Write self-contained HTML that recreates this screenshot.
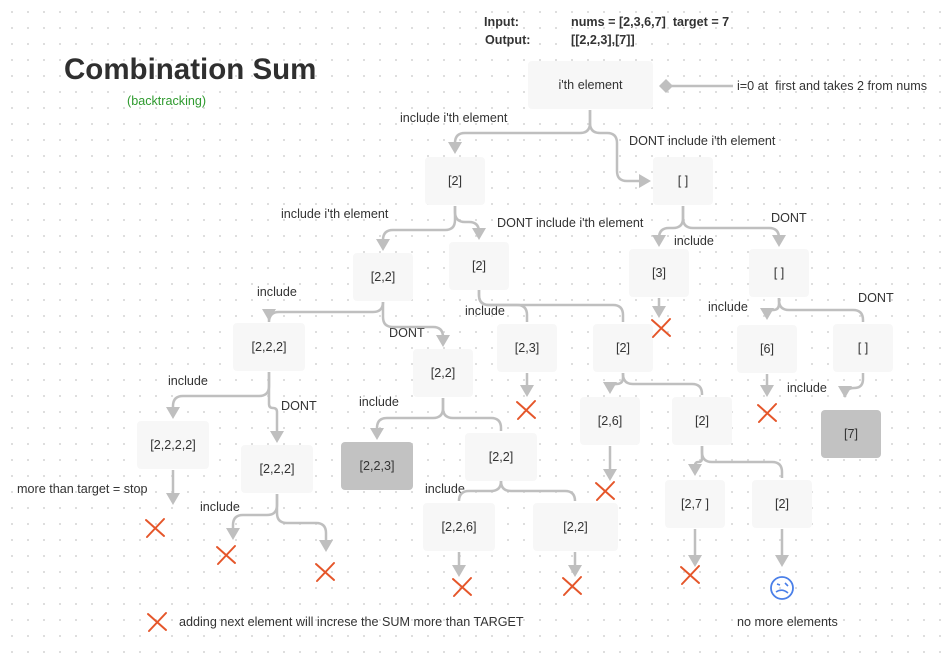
<!DOCTYPE html>
<html><head><meta charset="utf-8"><style>
html,body{margin:0;padding:0;}
body{width:948px;height:655px;overflow:hidden;background:#fff;
background-image:radial-gradient(circle,#d9d9d9 0.9px,transparent 1.2px);background-size:16px 16px;background-position:4px 4px;}
svg{position:absolute;left:0;top:0;}
text{font-family:"Liberation Sans",sans-serif;font-size:12.6px;fill:#333;white-space:pre;}
</style></head><body>
<svg id="s" width="948" height="655" xmlns="http://www.w3.org/2000/svg" xml:space="preserve">
<text x="64" y="79" style="font-size:29.5px;font-weight:bold;fill:#2f2f2f">Combination Sum</text>
<text x="127" y="105" style="fill:#2e9a2e">(backtracking)</text>
<text x="484" y="26" style="font-weight:bold">Input:</text>
<text x="571" y="26" style="font-weight:bold">nums = [2,3,6,7]  target = 7</text>
<text x="485" y="44" style="font-weight:bold">Output:</text>
<text x="571" y="44" style="font-weight:bold">[[2,2,3],[7]]</text>
<text x="737" y="90">i=0 at  first and takes 2 from nums</text>
<text x="400" y="122">include i'th element</text>
<text x="629" y="145">DONT include i'th element</text>
<text x="281" y="218">include i'th element</text>
<text x="497" y="227">DONT include i'th element</text>
<text x="771" y="222">DONT</text>
<text x="674" y="245">include</text>
<text x="257" y="296">include</text>
<text x="389" y="337">DONT</text>
<text x="465" y="315">include</text>
<text x="708" y="311">include</text>
<text x="858" y="302">DONT</text>
<text x="168" y="385">include</text>
<text x="281" y="410">DONT</text>
<text x="359" y="406">include</text>
<text x="787" y="392">include</text>
<text x="17" y="493">more than target = stop</text>
<text x="200" y="511">include</text>
<text x="425" y="493">include</text>
<text x="179" y="626">adding next element will increse the SUM more than TARGET</text>
<text x="737" y="626">no more elements</text>
<g id="g"></g>
</svg>
<script>
var g=document.getElementById('g'),h='';
var C='#bfbfbf';
function box(x,y,w,t,dark){h+='<rect x="'+x+'" y="'+y+'" width="'+w+'" height="48" rx="4" fill="'+(dark?'#c2c2c2':'#f7f7f7')+'"/><text x="'+(x+w/2)+'" y="'+(y+28)+'" text-anchor="middle">'+t+'</text>';}
function p(d){h+='<path d="'+d+'" fill="none" stroke="'+C+'" stroke-width="2.5"/>';}
function ad(x,y){h+='<path d="M'+(x-7)+' '+(y-12)+'L'+(x+7)+' '+(y-12)+'L'+x+' '+y+'Z" fill="'+C+'"/>';}
function ar(x,y){h+='<path d="M'+(x-12)+' '+(y-7)+'L'+(x-12)+' '+(y+7)+'L'+x+' '+y+'Z" fill="'+C+'"/>';}
function br(px,py,cx,cy,e,arrow){var s=cx<px?-1:1,r=Math.min(10,Math.abs(cx-px)/2);
p('M'+px+' '+py+'L'+px+' '+(e-r)+'Q'+px+' '+e+' '+(px+s*r)+' '+e+'L'+(cx-s*r)+' '+e+'Q'+cx+' '+e+' '+cx+' '+(e+r)+'L'+cx+' '+(cy-(arrow?10:0)));
if(arrow)ad(cx,cy);}
function dn(x,y1,y2){p('M'+x+' '+y1+'L'+x+' '+(y2-10));ad(x,y2);}
function X(x,y){h+='<path d="M'+(x-9)+' '+(y-8)+'L'+(x+9)+' '+(y+8)+'M'+(x+9)+' '+(y-9)+'L'+(x-8)+' '+(y+9)+'" stroke="#e5562a" stroke-width="2" fill="none" stroke-linecap="round"/>';}
box(528,61,125,"i'th element");
box(425,157,60,'[2]');box(653,157,60,'[ ]');
box(353,253,60,'[2,2]');box(449,242,60,'[2]');box(629,249,60,'[3]');box(749,249,60,'[ ]');
box(233,323,72,'[2,2,2]');box(413,349,60,'[2,2]');box(497,324,60,'[2,3]');box(593,324,60,'[2]');box(737,325,60,'[6]');box(833,324,60,'[ ]');
box(137,421,72,'[2,2,2,2]');box(241,445,72,'[2,2,2]');box(341,442,72,'[2,2,3]',1);box(465,433,72,'[2,2]');box(580,397,60,'[2,6]');box(672,397,60,'[2]');box(821,410,60,'[7]',1);
box(423,503,72,'[2,2,6]');box(533,503,85,'[2,2]');box(665,480,60,'[2,7 ]');box(752,480,60,'[2]');
br(590,110,455,154,133,1);
p('M590 110L590 123Q590 133 600 133L607 133Q617 133 617 143L617 171Q617 181 627 181L640 181');ar(651,181);
br(455,206,383,251,230,1);br(455,206,479,240,222,1);
br(683,206,659,247,228,1);br(683,206,779,247,228,1);
br(383,302,269,321,312,1);br(383,302,443,347,327,1);
br(479,290,527,322,305,0);br(479,290,623,322,305,0);
dn(659,298,318);X(661,328);
br(779,298,767,320,310,1);
br(779,298,863,322,310,0);
br(269,372,173,419,396,1);br(269,372,277,443,408,1);
br(443,398,377,440,418,1);br(443,398,501,431,418,0);
dn(527,373,397);X(526,410);
br(623,373,610,394,384,1);br(623,373,702,395,384,0);
dn(767,374,397);X(767,413);
br(863,373,845,398,388,1);
dn(173,470,505);X(155,528);
br(277,494,233,540,515,1);br(277,494,326,552,523,1);X(226,555);X(325,572);
br(501,482,459,501,491,0);br(501,482,575,501,491,0);
dn(610,446,481);X(605,491);
br(702,446,695,476,462,1);br(702,446,782,478,462,0);
dn(459,552,577);X(462,587);
dn(575,552,577);X(572,586);
dn(695,529,567);X(690,575);
dn(782,529,567);
h+='<circle cx="782" cy="588" r="11" fill="none" stroke="#4a7fe8" stroke-width="1.8"/><path d="M776 592Q782 588 788 593M777 584L780 585M785 583L788 586" stroke="#4a7fe8" stroke-width="1.6" fill="none"/>';
p('M733 86L670 86');h+='<path d="M659 86L666 79L673 86L666 93Z" fill="'+C+'"/>';
X(157,622);
g.innerHTML=h;
</script>
</body></html>
